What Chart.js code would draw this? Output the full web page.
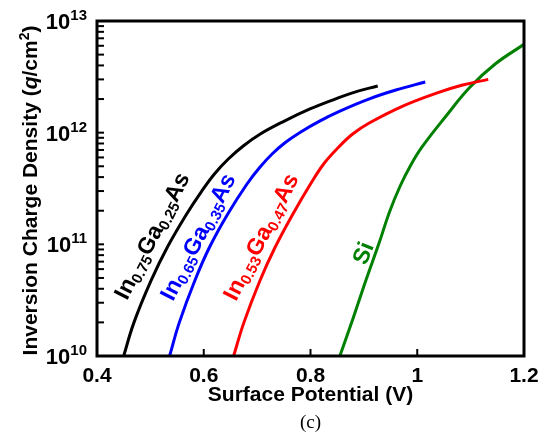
<!DOCTYPE html>
<html>
<head>
<meta charset="utf-8">
<script src="https://cdn.jsdelivr.net/npm/chart.js@4.4.0/dist/chart.umd.min.js"></script>
<style>
  html, body { margin: 0; padding: 0; background: #fff; }
  canvas { display: block; }
</style>
</head>
<body>
<canvas id="chargeChart" width="548" height="435"></canvas>
<script>
// Surface potential (V) vs inversion charge density (q/cm^2)
const in75Potential = [0.450, 0.469, 0.501, 0.532, 0.568, 0.595, 0.620, 0.646, 0.674, 0.706, 0.751, 0.799, 0.846, 0.883, 0.926];
const in75Charge = [1.0e10, 1.98e10, 4.7e10, 9.46e10, 1.87e11, 2.94e11, 4.27e11, 5.81e11, 7.6e11, 9.73e11, 1.27e12, 1.63e12, 2.0e12, 2.31e12, 2.62e12];

const in65Potential = [0.536, 0.554, 0.583, 0.611, 0.645, 0.681, 0.704, 0.728, 0.754, 0.781, 0.817, 0.855, 0.909, 0.960, 1.015];
const in65Charge = [1.0e10, 1.98e10, 4.7e10, 9.46e10, 1.87e11, 3.47e11, 4.83e11, 6.44e11, 8.24e11, 1.01e12, 1.27e12, 1.56e12, 2.0e12, 2.41e12, 2.84e12];

const in53Potential = [0.656, 0.675, 0.705, 0.733, 0.766, 0.800, 0.826, 0.853, 0.879, 0.910, 0.973, 1.036, 1.085, 1.133];
const in53Charge = [1.0e10, 1.98e10, 4.7e10, 9.27e10, 1.83e11, 3.47e11, 5.35e11, 7.45e11, 9.73e11, 1.22e12, 1.73e12, 2.26e12, 2.67e12, 3.0e12];

const siPotential = [0.855, 0.880, 0.904, 0.928, 0.948, 0.968, 0.987, 1.009, 1.054, 1.099, 1.146, 1.200];
const siCharge = [1.0e10, 2.19e10, 4.8e10, 1.01e11, 1.95e11, 3.33e11, 5.04e11, 7.45e11, 1.41e12, 2.56e12, 4.12e12, 6.18e12];

// axis ticks
const xTicks = [0.4, 0.6, 0.8, 1.0, 1.2];
const xTickLabels = ["0.4", "0.6", "0.8", "1", "1.2"];
const yDecades = [10, 11, 12, 13];

// curve labels, alternating normal text / subscript
const in75Label = ["In", "0.75", "Ga", "0.25", "As"];
const in65Label = ["In", "0.65", "Ga", "0.35", "As"];
const in53Label = ["In", "0.53", "Ga", "0.47", "As"];
const siLabel = ["Si"];

const FONT = "'Liberation Sans', Arial, sans-serif";

function toPoints(xs, ys) {
  return xs.map((x, i) => ({ x: x, y: ys[i] }));
}

function drawRuns(ctx, runs, x, y, deg, color, size, subSize) {
  ctx.save();
  ctx.translate(x, y);
  ctx.rotate((-deg * Math.PI) / 180);
  ctx.fillStyle = color;
  ctx.textBaseline = "alphabetic";
  ctx.textAlign = "left";
  let cx = 0;
  runs.forEach((text, i) => {
    const sub = i % 2 === 1;
    ctx.font = "bold " + (sub ? subSize : size) + "px " + FONT;
    ctx.fillText(text, cx, sub ? 4 : 0);
    cx += ctx.measureText(text).width;
  });
  ctx.restore();
}

// frame, inward ticks and all the text
const decorations = {
  id: "decorations",
  afterDatasetsDraw(chart) {
    const ctx = chart.ctx;
    const area = chart.chartArea;
    const xs = chart.scales.x;
    const ys = chart.scales.y;

    ctx.save();
    ctx.strokeStyle = "#000";
    ctx.lineWidth = 2;
    // bottom ticks
    xTicks.forEach((v) => {
      const px = xs.getPixelForValue(v);
      ctx.beginPath();
      ctx.moveTo(px, area.bottom);
      ctx.lineTo(px, area.bottom - 7);
      ctx.stroke();
    });
    // left ticks (log minor + major)
    yDecades.forEach((d) => {
      for (let m = 1; m <= 9; m++) {
        if (d === 13 && m > 1) break;
        const py = ys.getPixelForValue(m * Math.pow(10, d));
        ctx.beginPath();
        ctx.moveTo(area.left, py);
        ctx.lineTo(area.left + 7, py);
        ctx.stroke();
      }
    });
    // frame
    ctx.lineWidth = 3;
    ctx.strokeRect(area.left, area.top, area.right - area.left, area.bottom - area.top);

    ctx.fillStyle = "#000";
    // x tick labels
    ctx.font = "bold 21px " + FONT;
    ctx.textAlign = "center";
    ctx.textBaseline = "alphabetic";
    xTicks.forEach((v, i) => {
      ctx.fillText(xTickLabels[i], xs.getPixelForValue(v), area.bottom + 26);
    });
    // y tick labels 10^n
    yDecades.forEach((d) => {
      const py = ys.getPixelForValue(Math.pow(10, d));
      ctx.font = "bold 15px " + FONT;
      const supW = ctx.measureText(String(d)).width;
      ctx.textAlign = "right";
      ctx.fillText(String(d), area.left - 10, py - 1);
      ctx.font = "bold 22px " + FONT;
      ctx.fillText("10", area.left - 10 - supW, py + 8);
    });

    // x title
    ctx.textAlign = "center";
    ctx.font = "bold 21px " + FONT;
    ctx.fillText("Surface Potential (V)", (area.left + area.right) / 2, area.bottom + 45);
    // caption
    ctx.font = "19px 'Liberation Serif', 'Times New Roman', serif";
    ctx.fillText("(c)", (area.left + area.right) / 2, area.bottom + 72);

    // y title with italic q and superscript 2
    const segs = [
      { t: "Inversion Charge Density (", f: "bold 21px " + FONT, dy: 0 },
      { t: "q", f: "italic bold 21px " + FONT, dy: 0 },
      { t: "/cm", f: "bold 21px " + FONT, dy: 0 },
      { t: "2", f: "bold 14px " + FONT, dy: -8 },
      { t: ")", f: "bold 21px " + FONT, dy: 0 },
    ];
    let total = 0;
    segs.forEach((s) => { ctx.font = s.f; s.w = ctx.measureText(s.t).width; total += s.w; });
    ctx.translate(37, (area.top + area.bottom) / 2 + 2);
    ctx.rotate(-Math.PI / 2);
    ctx.textAlign = "left";
    let cx = -total / 2;
    segs.forEach((s) => { ctx.font = s.f; ctx.fillText(s.t, cx, s.dy); cx += s.w; });
    ctx.restore();

    // curve labels
    drawRuns(ctx, in75Label, 127, 301, 63, "#000000", 23, 15);
    drawRuns(ctx, in65Label, 173, 302, 63, "#0000ff", 23, 15);
    drawRuns(ctx, in53Label, 236, 302, 63, "#ff0000", 23, 15);
    drawRuns(ctx, siLabel, 366, 266, 68, "#008000", 23, 15);
  },
};

const chargeChart = new Chart(document.getElementById("chargeChart"), {
  type: "line",
  data: {
    datasets: [
      { label: "In0.75Ga0.25As", data: toPoints(in75Potential, in75Charge), borderColor: "#000000" },
      { label: "In0.65Ga0.35As", data: toPoints(in65Potential, in65Charge), borderColor: "#0000ff" },
      { label: "In0.53Ga0.47As", data: toPoints(in53Potential, in53Charge), borderColor: "#ff0000" },
      { label: "Si", data: toPoints(siPotential, siCharge), borderColor: "#008000" },
    ],
  },
  options: {
    responsive: false,
    animation: false,
    layout: {
      padding: { left: 97, top: 21, right: 24, bottom: 79 },
    },
    elements: {
      line: { borderWidth: 3, tension: 0.4, fill: false },
      point: { radius: 0, hoverRadius: 0 },
    },
    scales: {
      x: { type: "linear", min: 0.4, max: 1.2, display: false },
      y: { type: "logarithmic", min: 1e10, max: 1e13, display: false },
    },
    plugins: {
      legend: { display: false },
      tooltip: { enabled: false },
    },
  },
  plugins: [decorations],
});
</script>
</body>
</html>
